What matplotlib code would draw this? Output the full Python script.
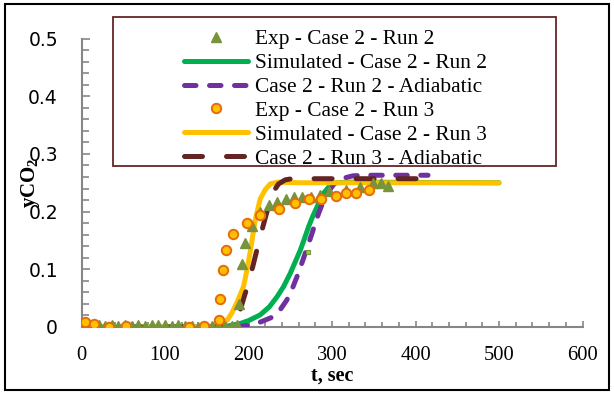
import matplotlib
matplotlib.use("Agg")
import matplotlib.pyplot as plt
from matplotlib.patches import Rectangle
from matplotlib.ticker import MultipleLocator

plt.rcParams['font.family'] = ['Liberation Serif', 'DejaVu Serif']
plt.rcParams['mathtext.fontset'] = 'custom'
plt.rcParams['mathtext.rm'] = 'Liberation Serif'
plt.rcParams['mathtext.bf'] = 'Liberation Serif:bold'

# ---- data ----
exp2_t = [5, 13, 21, 28, 36, 44, 52, 60, 68, 76, 84, 92, 100, 108, 116, 124, 132, 140, 148,
          156, 164, 172, 180, 186, 189, 192.6, 196.2, 203.8, 214, 224, 234.5, 245, 254, 264,
          274.5, 285.6, 297, 317, 333, 349, 359, 367]
exp2_y = [0.003, 0.002, 0.003, 0.002, 0.003, 0.002, 0.003, 0.002, 0.003, 0.002, 0.003, 0.003,
          0.004, 0.002, 0.003, 0.001, 0.001, 0.0, 0.0, 0.001, 0.002, 0.002, 0.002, 0.003, 0.039,
          0.109, 0.145, 0.175, 0.200, 0.212, 0.217, 0.222, 0.225, 0.226, 0.226, 0.229, 0.235,
          0.238, 0.243, 0.250, 0.249, 0.245]
odd_t = [271.6]
odd_y = [0.130]

exp3_t = [4, 15, 33, 53, 129, 147, 165, 166, 170, 173, 182, 198, 214, 236.5, 256, 272, 287,
          305, 317, 329, 344.5]
exp3_y = [0.008, 0.005, 0.0, 0.002, 0.0, 0.001, 0.012, 0.048, 0.098, 0.134, 0.161, 0.181,
          0.194, 0.204, 0.215, 0.222, 0.222, 0.227, 0.233, 0.233, 0.237]

sim2_t = [0, 170, 190, 200, 214, 225, 234, 242, 250, 256, 262, 267, 272, 277, 282, 290, 298,
          305, 320, 500]
sim2_y = [0.0, 0.0, 0.006, 0.011, 0.021, 0.035, 0.052, 0.070, 0.093, 0.113, 0.133, 0.153,
          0.174, 0.192, 0.208, 0.232, 0.246, 0.250, 0.251, 0.250]

adi2_t = [185, 202, 215, 230, 238, 246, 252, 258, 263, 268, 272, 276, 280, 284, 288, 292, 297,
          302, 308, 314, 325, 340, 380, 415]
adi2_y = [0.0, 0.003, 0.009, 0.018, 0.030, 0.047, 0.065, 0.087, 0.107, 0.128, 0.145, 0.162,
          0.180, 0.197, 0.212, 0.224, 0.237, 0.247, 0.254, 0.258, 0.262, 0.263, 0.263, 0.263]

sim3_t = [0, 150, 160, 168, 175, 180, 187, 194, 198, 202, 208, 214, 220, 226, 235, 260, 500]
sim3_y = [0.0, 0.0, 0.002, 0.006, 0.013, 0.024, 0.045, 0.070, 0.098, 0.130, 0.185, 0.222,
          0.238, 0.248, 0.251, 0.250, 0.250]

adi3_t = [0, 170, 180, 186, 190, 196, 200, 206, 212, 218, 224, 230, 236, 244, 252, 300, 405]
adi3_y = [0.0, 0.0, 0.006, 0.018, 0.029, 0.058, 0.075, 0.110, 0.145, 0.178, 0.210, 0.235,
          0.248, 0.255, 0.257, 0.257, 0.257]

labels = ["Exp - Case 2 - Run 2", "Simulated - Case 2 - Run 2", "Case 2 - Run 2 - Adiabatic",
          "Exp - Case 2 - Run 3", "Simulated - Case 2 - Run 3", "Case 2 - Run 3 - Adiabatic"]
x_ticks = [0, 100, 200, 300, 400, 500, 600]
y_ticks = [0, 0.1, 0.2, 0.3, 0.4, 0.5]
y_tick_labels = ["0", "0.1", "0.2", "0.3", "0.4", "0.5"]

# ---- figure ----
W, H = 614, 394
fig = plt.figure(figsize=(W / 100, H / 100), dpi=100)
ax = fig.add_axes([81.5 / W, (H - 327) / H, 501 / W, 288.5 / H])

lw = 3.6
h_exp2, = ax.plot(exp2_t, exp2_y, linestyle='none', marker='^', markersize=7.3,
                  color='#77933C', markeredgecolor='#77933C', zorder=5)
ax.plot(odd_t, odd_y, linestyle='none', marker='s', markersize=3.5,
        markerfacecolor='#92D050', markeredgecolor='#77933C', markeredgewidth=0.8, zorder=5)
h_sim2, = ax.plot(sim2_t, sim2_y, color='#00B050', lw=lw, solid_capstyle='round', zorder=2)
h_adi2, = ax.plot(adi2_t, adi2_y, color='#7030A0', lw=lw, dashes=(2.3, 2.7),
                  dash_capstyle='round', zorder=3)
h_exp3, = ax.plot(exp3_t, exp3_y, linestyle='none', marker='o', markersize=6.8,
                  markerfacecolor='#FFC000', markeredgecolor='#E46C0A', markeredgewidth=1.4,
                  zorder=6)
h_sim3, = ax.plot(sim3_t, sim3_y, color='#FFC000', lw=lw, solid_capstyle='round', zorder=3.5)
h_adi3, = ax.plot(adi3_t, adi3_y, color='#632523', lw=lw, dashes=(3.6, 4.8),
                  dash_capstyle='round', zorder=4)

ax.set_xlim(0, 600)
ax.set_ylim(0, 0.5)
ax.set_xticks(x_ticks)
ax.set_yticks(y_ticks)
ax.set_yticklabels(y_tick_labels, family='DejaVu Sans', fontsize=13.5)
for t in ax.get_xticklabels():
    t.set_fontsize(14.8)
    t.set_family('Liberation Serif')
ax.xaxis.set_minor_locator(MultipleLocator(20))
ax.yaxis.set_minor_locator(MultipleLocator(0.02))
for s in ['top', 'right']:
    ax.spines[s].set_visible(False)
for s in ['left', 'bottom']:
    ax.spines[s].set_color('#868686')
    ax.spines[s].set_linewidth(1.5)
ax.tick_params(axis='y', which='major', direction='in', length=6, width=1.2,
               color='#868686', pad=17)
ax.tick_params(axis='y', which='minor', direction='in', length=5, width=1.2, color='#868686')
ax.tick_params(axis='x', which='major', direction='in', length=4.5, width=1.2,
               color='#868686', pad=14)
ax.tick_params(axis='x', which='minor', direction='in', length=3.5, width=1.2, color='#868686')

ax.set_xlabel('t, sec', fontsize=14.5, fontweight='bold', labelpad=0)
fig.text(30 / W, 1 - 183 / H, r'$\mathbf{yCO_2}$', rotation=90, ha='center', va='center',
         fontsize=15)

# legend box and legend
fig.patches.append(Rectangle((113 / W, (H - 166) / H), 443 / W, 149 / H, transform=fig.transFigure,
                             fill=False, edgecolor='#632523', lw=1.3, zorder=10))
leg = fig.legend([h_exp2, h_sim2, h_adi2, h_exp3, h_sim3, h_adi3], labels,
                 loc='upper left', bbox_to_anchor=(184 / W, 1 - 29.5 / H), frameon=False,
                 prop={'family': 'Liberation Serif', 'size': 15.4},
                 handlelength=3.0, handletextpad=0.33, labelspacing=0.18,
                 borderpad=0, borderaxespad=0)
leg.set_zorder(11)

fig.patches.append(Rectangle((5 / W, 4 / H), 604 / W, 386 / H, transform=fig.transFigure,
                             fill=False, edgecolor='black', lw=1.5, zorder=12))

fig.savefig('out.png', dpi=100)
